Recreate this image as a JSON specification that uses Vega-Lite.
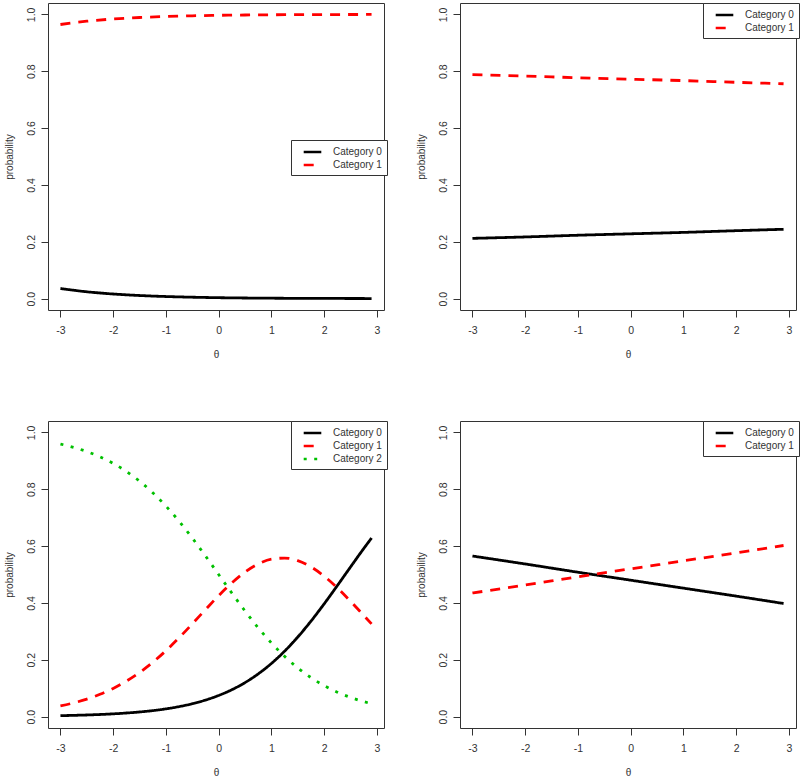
{
  "$schema": "https://vega.github.io/schema/vega-lite/v6.json",
  "padding": {"left": 3, "top": 2, "right": 0, "bottom": 0},
  "background": "white",
  "datasets": {
    "A": [
      {"theta": -3, "p": 0.0356, "cat": "Category 0"}, {"theta": -2.5, "p": 0.0241, "cat": "Category 0"}, {"theta": -2, "p": 0.0163, "cat": "Category 0"}, {"theta": -1.5, "p": 0.0110, "cat": "Category 0"}, {"theta": -1, "p": 0.0074, "cat": "Category 0"}, {"theta": -0.5, "p": 0.0050, "cat": "Category 0"}, {"theta": 0, "p": 0.0033, "cat": "Category 0"}, {"theta": 0.5, "p": 0.0022, "cat": "Category 0"}, {"theta": 1, "p": 0.0015, "cat": "Category 0"}, {"theta": 1.5, "p": 0.0010, "cat": "Category 0"}, {"theta": 2, "p": 0.0007, "cat": "Category 0"}, {"theta": 2.5, "p": 0.0005, "cat": "Category 0"}, {"theta": 2.9, "p": 0.0003, "cat": "Category 0"},
      {"theta": -3, "p": 0.9644, "cat": "Category 1"}, {"theta": -2.5, "p": 0.9759, "cat": "Category 1"}, {"theta": -2, "p": 0.9837, "cat": "Category 1"}, {"theta": -1.5, "p": 0.9890, "cat": "Category 1"}, {"theta": -1, "p": 0.9926, "cat": "Category 1"}, {"theta": -0.5, "p": 0.9950, "cat": "Category 1"}, {"theta": 0, "p": 0.9967, "cat": "Category 1"}, {"theta": 0.5, "p": 0.9978, "cat": "Category 1"}, {"theta": 1, "p": 0.9985, "cat": "Category 1"}, {"theta": 1.5, "p": 0.9990, "cat": "Category 1"}, {"theta": 2, "p": 0.9993, "cat": "Category 1"}, {"theta": 2.5, "p": 0.9995, "cat": "Category 1"}, {"theta": 2.9, "p": 0.9997, "cat": "Category 1"}
    ],
    "B": [
      {"theta": -3, "p": 0.212, "cat": "Category 0"}, {"theta": -2, "p": 0.217, "cat": "Category 0"}, {"theta": -1, "p": 0.223, "cat": "Category 0"}, {"theta": 0, "p": 0.228, "cat": "Category 0"}, {"theta": 1, "p": 0.233, "cat": "Category 0"}, {"theta": 2, "p": 0.239, "cat": "Category 0"}, {"theta": 2.9, "p": 0.244, "cat": "Category 0"},
      {"theta": -3, "p": 0.788, "cat": "Category 1"}, {"theta": -2, "p": 0.783, "cat": "Category 1"}, {"theta": -1, "p": 0.777, "cat": "Category 1"}, {"theta": 0, "p": 0.772, "cat": "Category 1"}, {"theta": 1, "p": 0.767, "cat": "Category 1"}, {"theta": 2, "p": 0.761, "cat": "Category 1"}, {"theta": 2.9, "p": 0.756, "cat": "Category 1"}
    ],
    "C": [
      {"theta": -3, "p": 0.0034, "cat": "Category 0"}, {"theta": -2.75, "p": 0.0045, "cat": "Category 0"}, {"theta": -2.5, "p": 0.0058, "cat": "Category 0"}, {"theta": -2.25, "p": 0.0075, "cat": "Category 0"}, {"theta": -2, "p": 0.0098, "cat": "Category 0"}, {"theta": -1.75, "p": 0.0127, "cat": "Category 0"}, {"theta": -1.5, "p": 0.0164, "cat": "Category 0"}, {"theta": -1.25, "p": 0.0212, "cat": "Category 0"}, {"theta": -1, "p": 0.0274, "cat": "Category 0"}, {"theta": -0.75, "p": 0.0353, "cat": "Category 0"}, {"theta": -0.5, "p": 0.0454, "cat": "Category 0"}, {"theta": -0.25, "p": 0.0583, "cat": "Category 0"}, {"theta": 0, "p": 0.0745, "cat": "Category 0"}, {"theta": 0.25, "p": 0.0947, "cat": "Category 0"}, {"theta": 0.5, "p": 0.1197, "cat": "Category 0"}, {"theta": 0.75, "p": 0.1503, "cat": "Category 0"}, {"theta": 1, "p": 0.1870, "cat": "Category 0"}, {"theta": 1.25, "p": 0.2301, "cat": "Category 0"}, {"theta": 1.5, "p": 0.2799, "cat": "Category 0"}, {"theta": 1.75, "p": 0.3357, "cat": "Category 0"}, {"theta": 2, "p": 0.3965, "cat": "Category 0"}, {"theta": 2.25, "p": 0.4607, "cat": "Category 0"}, {"theta": 2.5, "p": 0.5262, "cat": "Category 0"}, {"theta": 2.75, "p": 0.5909, "cat": "Category 0"}, {"theta": 2.9, "p": 0.6283, "cat": "Category 0"},
      {"theta": -3, "p": 0.0377, "cat": "Category 1"}, {"theta": -2.75, "p": 0.0483, "cat": "Category 1"}, {"theta": -2.5, "p": 0.0617, "cat": "Category 1"}, {"theta": -2.25, "p": 0.0786, "cat": "Category 1"}, {"theta": -2, "p": 0.0993, "cat": "Category 1"}, {"theta": -1.75, "p": 0.1247, "cat": "Category 1"}, {"theta": -1.5, "p": 0.1551, "cat": "Category 1"}, {"theta": -1.25, "p": 0.1909, "cat": "Category 1"}, {"theta": -1, "p": 0.2318, "cat": "Category 1"}, {"theta": -0.75, "p": 0.2774, "cat": "Category 1"}, {"theta": -0.5, "p": 0.3263, "cat": "Category 1"}, {"theta": -0.25, "p": 0.3765, "cat": "Category 1"}, {"theta": 0, "p": 0.4255, "cat": "Category 1"}, {"theta": 0.25, "p": 0.4705, "cat": "Category 1"}, {"theta": 0.5, "p": 0.5086, "cat": "Category 1"}, {"theta": 0.75, "p": 0.5370, "cat": "Category 1"}, {"theta": 1, "p": 0.5538, "cat": "Category 1"}, {"theta": 1.25, "p": 0.5578, "cat": "Category 1"}, {"theta": 1.5, "p": 0.5486, "cat": "Category 1"}, {"theta": 1.75, "p": 0.5269, "cat": "Category 1"}, {"theta": 2, "p": 0.4944, "cat": "Category 1"}, {"theta": 2.25, "p": 0.4532, "cat": "Category 1"}, {"theta": 2.5, "p": 0.4062, "cat": "Category 1"}, {"theta": 2.75, "p": 0.3563, "cat": "Category 1"}, {"theta": 2.9, "p": 0.3263, "cat": "Category 1"},
      {"theta": -3, "p": 0.9589, "cat": "Category 2"}, {"theta": -2.75, "p": 0.9472, "cat": "Category 2"}, {"theta": -2.5, "p": 0.9325, "cat": "Category 2"}, {"theta": -2.25, "p": 0.9139, "cat": "Category 2"}, {"theta": -2, "p": 0.8909, "cat": "Category 2"}, {"theta": -1.75, "p": 0.8626, "cat": "Category 2"}, {"theta": -1.5, "p": 0.8285, "cat": "Category 2"}, {"theta": -1.25, "p": 0.7879, "cat": "Category 2"}, {"theta": -1, "p": 0.7408, "cat": "Category 2"}, {"theta": -0.75, "p": 0.6873, "cat": "Category 2"}, {"theta": -0.5, "p": 0.6283, "cat": "Category 2"}, {"theta": -0.25, "p": 0.5652, "cat": "Category 2"}, {"theta": 0, "p": 0.5000, "cat": "Category 2"}, {"theta": 0.25, "p": 0.4348, "cat": "Category 2"}, {"theta": 0.5, "p": 0.3717, "cat": "Category 2"}, {"theta": 0.75, "p": 0.3127, "cat": "Category 2"}, {"theta": 1, "p": 0.2592, "cat": "Category 2"}, {"theta": 1.25, "p": 0.2121, "cat": "Category 2"}, {"theta": 1.5, "p": 0.1715, "cat": "Category 2"}, {"theta": 1.75, "p": 0.1374, "cat": "Category 2"}, {"theta": 2, "p": 0.1091, "cat": "Category 2"}, {"theta": 2.25, "p": 0.0861, "cat": "Category 2"}, {"theta": 2.5, "p": 0.0676, "cat": "Category 2"}, {"theta": 2.75, "p": 0.0528, "cat": "Category 2"}, {"theta": 2.9, "p": 0.0454, "cat": "Category 2"}
    ],
    "D": [
      {"theta": -3, "p": 0.565, "cat": "Category 0"}, {"theta": -2, "p": 0.537, "cat": "Category 0"}, {"theta": -1, "p": 0.508, "cat": "Category 0"}, {"theta": 0, "p": 0.480, "cat": "Category 0"}, {"theta": 1, "p": 0.452, "cat": "Category 0"}, {"theta": 2, "p": 0.424, "cat": "Category 0"}, {"theta": 2.9, "p": 0.398, "cat": "Category 0"},
      {"theta": -3, "p": 0.435, "cat": "Category 1"}, {"theta": -2, "p": 0.463, "cat": "Category 1"}, {"theta": -1, "p": 0.492, "cat": "Category 1"}, {"theta": 0, "p": 0.520, "cat": "Category 1"}, {"theta": 1, "p": 0.548, "cat": "Category 1"}, {"theta": 2, "p": 0.576, "cat": "Category 1"}, {"theta": 2.9, "p": 0.602, "cat": "Category 1"}
    ]
  },
  "columns": 2,
  "spacing": {"row": 60, "column": 27},
  "resolve": {
    "scale": {"color": "independent", "strokeDash": "independent"},
    "legend": {"color": "independent", "strokeDash": "independent"}
  },
  "concat": [
    {
      "width": 336, "height": 307,
      "data": {"name": "A"},
      "mark": {"type": "line", "strokeWidth": 2.8, "interpolate": "monotone"},
      "encoding": {
        "x": {"field": "theta", "type": "quantitative", "scale": {"domain": [-3.236, 3.136], "nice": false, "zero": false}, "axis": {"values": [-3, -2, -1, 0, 1, 2, 3], "title": "θ"}},
        "y": {"field": "p", "type": "quantitative", "scale": {"domain": [-0.04, 1.04], "nice": false, "zero": false}, "axis": {"values": [0, 0.2, 0.4, 0.6, 0.8, 1], "format": ".1f", "title": "probability"}},
        "color": {"field": "cat", "type": "nominal", "scale": {"domain": ["Category 0", "Category 1"], "range": ["#000000", "#FF0000"]}, "legend": {"legendX": 243, "legendY": 137}},
        "strokeDash": {"field": "cat", "type": "nominal", "scale": {"domain": ["Category 0", "Category 1"], "range": [[1, 0], [10, 8]]}, "legend": {"legendX": 243, "legendY": 137}}
      }
    },
    {
      "width": 336, "height": 307,
      "data": {"name": "B"},
      "mark": {"type": "line", "strokeWidth": 2.8, "interpolate": "monotone"},
      "encoding": {
        "x": {"field": "theta", "type": "quantitative", "scale": {"domain": [-3.236, 3.136], "nice": false, "zero": false}, "axis": {"values": [-3, -2, -1, 0, 1, 2, 3], "title": "θ"}},
        "y": {"field": "p", "type": "quantitative", "scale": {"domain": [-0.04, 1.04], "nice": false, "zero": false}, "axis": {"values": [0, 0.2, 0.4, 0.6, 0.8, 1], "format": ".1f", "title": "probability"}},
        "color": {"field": "cat", "type": "nominal", "scale": {"domain": ["Category 0", "Category 1"], "range": ["#000000", "#FF0000"]}, "legend": {"legendX": 243, "legendY": 0}},
        "strokeDash": {"field": "cat", "type": "nominal", "scale": {"domain": ["Category 0", "Category 1"], "range": [[1, 0], [10, 8]]}, "legend": {"legendX": 243, "legendY": 0}}
      }
    },
    {
      "width": 336, "height": 307,
      "data": {"name": "C"},
      "mark": {"type": "line", "strokeWidth": 2.8, "interpolate": "monotone"},
      "encoding": {
        "x": {"field": "theta", "type": "quantitative", "scale": {"domain": [-3.236, 3.136], "nice": false, "zero": false}, "axis": {"values": [-3, -2, -1, 0, 1, 2, 3], "title": "θ"}},
        "y": {"field": "p", "type": "quantitative", "scale": {"domain": [-0.04, 1.04], "nice": false, "zero": false}, "axis": {"values": [0, 0.2, 0.4, 0.6, 0.8, 1], "format": ".1f", "title": "probability"}},
        "color": {"field": "cat", "type": "nominal", "scale": {"domain": ["Category 0", "Category 1", "Category 2"], "range": ["#000000", "#FF0000", "#00C000"]}, "legend": {"legendX": 243, "legendY": 0}},
        "strokeDash": {"field": "cat", "type": "nominal", "scale": {"domain": ["Category 0", "Category 1", "Category 2"], "range": [[1, 0], [10, 8], [3, 7.5]]}, "legend": {"legendX": 243, "legendY": 0}}
      }
    },
    {
      "width": 336, "height": 307,
      "data": {"name": "D"},
      "mark": {"type": "line", "strokeWidth": 2.8, "interpolate": "monotone"},
      "encoding": {
        "x": {"field": "theta", "type": "quantitative", "scale": {"domain": [-3.236, 3.136], "nice": false, "zero": false}, "axis": {"values": [-3, -2, -1, 0, 1, 2, 3], "title": "θ"}},
        "y": {"field": "p", "type": "quantitative", "scale": {"domain": [-0.04, 1.04], "nice": false, "zero": false}, "axis": {"values": [0, 0.2, 0.4, 0.6, 0.8, 1], "format": ".1f", "title": "probability"}},
        "color": {"field": "cat", "type": "nominal", "scale": {"domain": ["Category 0", "Category 1"], "range": ["#000000", "#FF0000"]}, "legend": {"legendX": 243, "legendY": 0}},
        "strokeDash": {"field": "cat", "type": "nominal", "scale": {"domain": ["Category 0", "Category 1"], "range": [[1, 0], [10, 8]]}, "legend": {"legendX": 243, "legendY": 0}}
      }
    }
  ],
  "config": {
    "font": "Liberation Sans",
    "view": {"stroke": "#333333", "strokeWidth": 1},
    "axis": {"domain": false, "grid": false, "ticks": true, "tickSize": 7, "tickColor": "#333333", "labelFont": "Liberation Sans", "labelFontSize": 10.5, "labelColor": "#333333", "titleFont": "Liberation Sans", "titleFontSize": 10, "titleFontWeight": "normal", "titleColor": "#333333"},
    "axisX": {"labelPadding": 8, "titlePadding": 14, "labelExpr": "datum.value < 0 ? '-' + abs(datum.value) : '' + datum.value"},
    "axisY": {"labelAngle": -90, "labelPadding": 5, "titlePadding": 12},
    "legend": {"orient": "none", "title": null, "strokeColor": "#333333", "fillColor": "white", "padding": 5, "symbolType": "M-1.6,0H1.6", "symbolSize": 121, "symbolStrokeWidth": 2.5, "labelFont": "Liberation Sans", "labelFontSize": 10, "labelColor": "#333333", "labelOffset": 13.5, "symbolOffset": 9.5, "rowPadding": 1, "cornerRadius": 0}
  }
}
